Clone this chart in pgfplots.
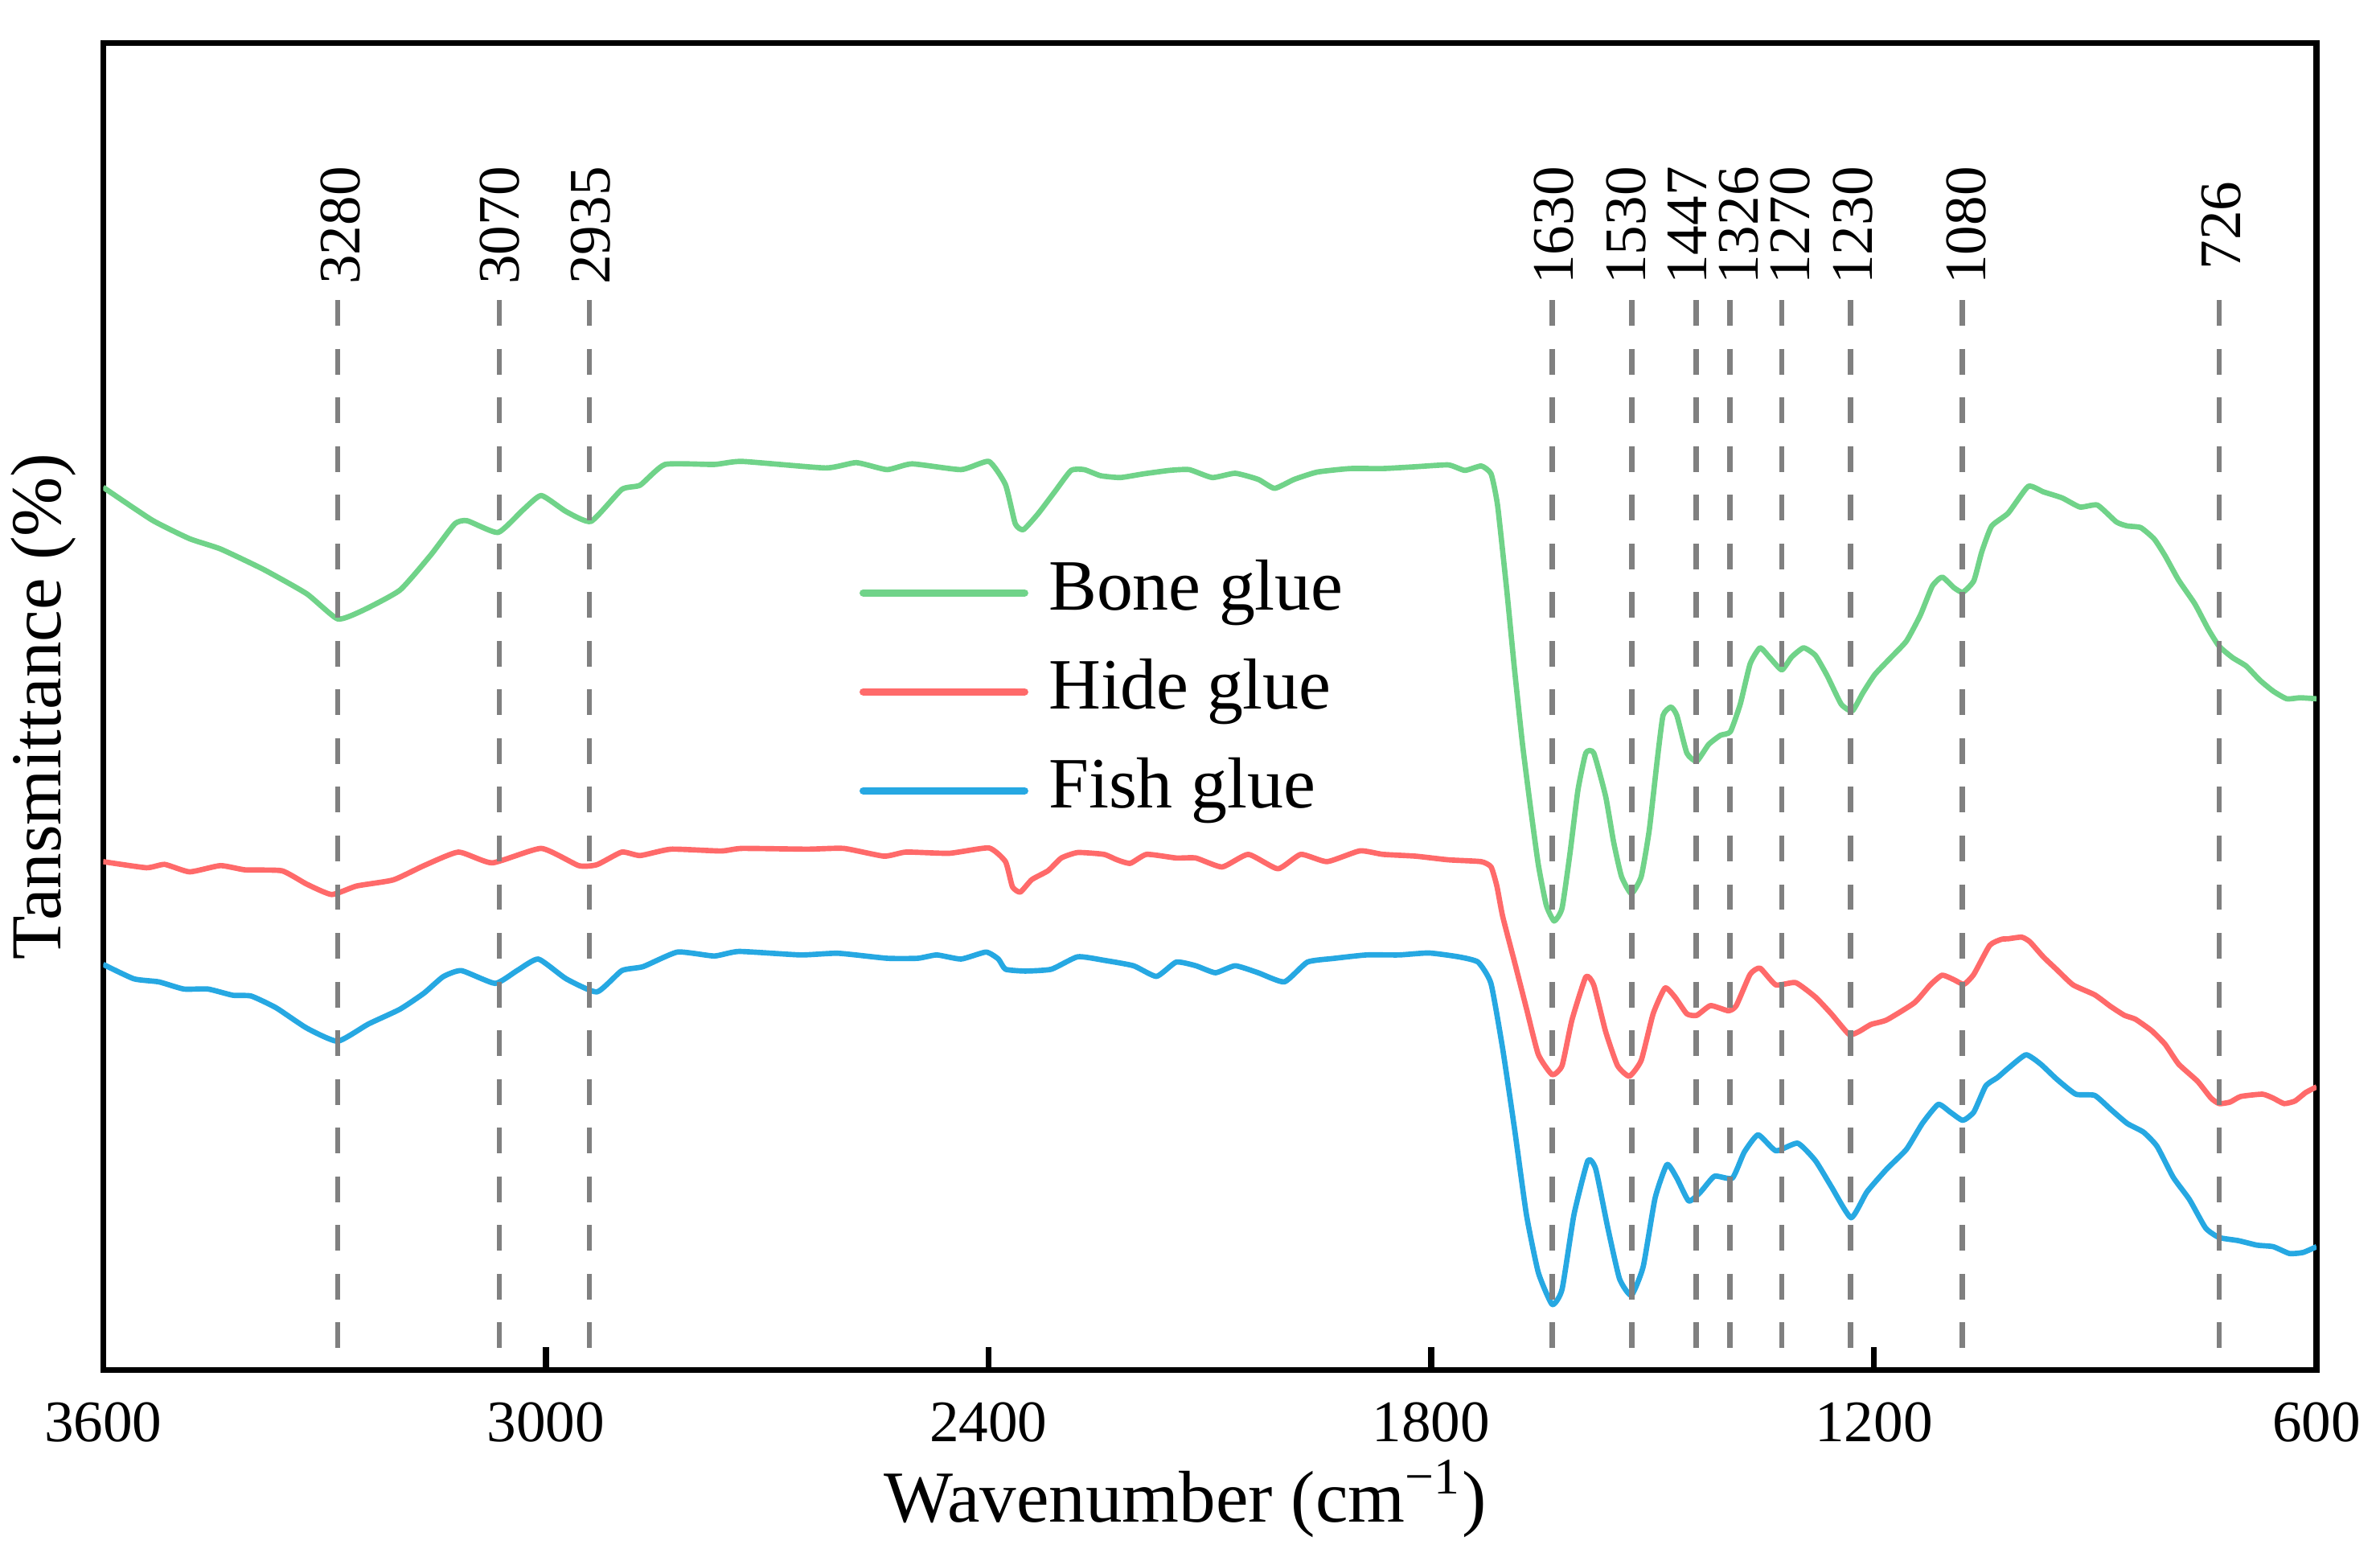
\documentclass[border=0pt]{standalone}
\usepackage{fontspec}
\setmainfont{Liberation Serif}
\usepackage{pgfplots}
\pgfplotsset{compat=1.18}
\usepackage{pgfplotstable}

\definecolor{bonegreen}{RGB}{112,211,137}
\definecolor{hidered}{RGB}{255,106,106}
\definecolor{fishblue}{RGB}{38,168,226}
\definecolor{peakgray}{RGB}{128,128,128}

% FTIR spectra, arbitrary transmittance units (curves offset)
\pgfplotstableread{
wn t
3600 580
3533.5 558.4
3482.8 546.2
3441.1 539.5
3382.5 526
3324 510
3282.2 493.5
3248.5 499
3197.8 512.4
3156.1 535.4
3123.4 556
3106.5 558
3064.8 550.3
3031 565.1
3006.2 574.6
2972.4 564
2938.7 557.6
2897 578.6
2872.1 581.4
2838.4 595
2771.8 595
2734.1 597
2620.9 592.7
2579.2 596.2
2537.5 591.6
2503.7 595.4
2437.2 591.6
2399.5 597
2377 581.7
2363.7 556
2352.6 552.2
2332.5 562.8
2310.3 577
2288.1 591.1
2270.2 591.6
2248 587.6
2221.3 586.4
2190.2 588.8
2154.6 591.1
2127.9 591.6
2096.8 586.4
2065.7 589.2
2034.5 585.2
2012.3 579.3
1985.6 585.2
1954.4 590
1910 592.3
1865.6 592.3
1821.1 593.5
1776.7 594.7
1754.4 591.1
1732.2 594
1718.8 588.8
1710 568
1697.7 513
1687 460
1676.2 411
1665.5 370
1654.8 332
1644 305.4
1633.3 295
1622.6 303.5
1611.9 339.4
1601.1 381
1590.4 405.4
1579.7 405.4
1563.6 377
1552.8 347
1542.1 324.3
1528.7 313
1515.3 324.3
1504.5 354.5
1493.8 400
1485.8 430
1475 435.6
1467 430
1453.5 405.4
1440.1 400
1424 411
1408 417
1394.5 419.4
1381.1 437.5
1367.7 464
1354.3 474.5
1340.9 468
1324.8 460
1311.4 468.5
1295.3 474.5
1279.2 469.5
1263.1 456
1244.3 437.5
1229.3 433
1214.8 445
1198.7 457
1177.2 468
1155.8 479
1137 496
1120.9 515
1107.5 521
1091.4 514
1079.5 511
1064.5 518.6
1053.8 537.5
1040.4 554.5
1018 563
990.8 580.6
970.3 577
944.7 573
920.6 567
897 568.3
871.3 557.2
856.7 554.6
838.3 553.5
820 546
805.3 535
787 519
765 503.4
746.7 486.7
732 475.5
713.7 468
695.3 462.5
677 453.3
658.7 446
640.3 441
622 441.7
600 441
}\bone

\pgfplotstableread{
wn t
3600 334
3541.4 330
3516.6 332.2
3482.8 327.3
3441.1 331.4
3407.4 328.6
3357.7 328
3324 319.2
3290.2 312.4
3256.4 318
3206.8 322
3165.1 331.4
3118.4 340.3
3072.7 333.2
3006.2 342.7
2955.5 331.4
2930.7 332
2897 340.3
2872.1 338
2830.4 342.2
2762.9 341
2734.1 342.7
2645.7 342.2
2596.1 342.7
2541.5 337.6
2511.7 340.3
2453.1 339.5
2399.5 343
2377 334
2367.6 317.5
2356.9 314
2341.3 322.2
2319.1 328.1
2301.3 336.4
2279.1 340
2243.6 338.8
2225.8 335.2
2207.9 332.9
2185.7 338.8
2145.6 336.4
2119 336.4
2083.4 330.5
2047.9 338.8
2007.8 329.3
1976.7 338.8
1941.1 334
1896.7 341.1
1865.6 338.8
1821.1 337.6
1776.7 335.2
1732.2 334
1718.8 330.5
1711 318
1703.1 298
1687 268
1670.9 237.5
1654.8 207.3
1636 194
1622.6 200
1609.2 230
1590.4 258.3
1579.7 253
1563.6 222.4
1547.5 200
1531.4 193
1515.3 203.5
1499.2 234
1483.1 251
1469.6 245
1453.5 234
1440.1 233
1421.4 239.4
1397.2 236
1386.5 239.4
1367.7 260
1354.3 264
1332.8 253
1306 254.5
1279.2 245
1257.7 234
1233.6 220.5
1220.1 222.4
1204 227
1182.6 230
1145 241.3
1123.6 253
1107.5 259.4
1091.4 256.4
1077.9 253.4
1064.5 260
1043 279
1026.9 283
1018 283.3
999.7 284.4
988.7 281.4
970.3 271.4
952 263
930 253
900.7 246.5
878.7 238.7
860.3 233
845.7 230.5
823.7 223
805.3 214
787 201
761.3 189.7
743 178.6
732 175
717.3 176
702.7 179.7
673.3 181.2
658.7 178.6
644 175
629.3 176.7
614.7 182.3
600 186
}\hide

\pgfplotstableread{
wn t
3600 266.5
3558.3 257
3524.5 255
3490.8 250.3
3458 250.3
3424.2 246.2
3399.4 245.7
3365.7 238
3324 224.6
3282.2 216
3240.5 227.3
3197.8 237
3165.1 247.6
3139.2 258.4
3114.4 262.4
3068.7 254
3039 262.4
3010.2 270
2972.4 257
2930.7 248.4
2897 262.4
2868.2 265
2821.5 274.6
2771.8 272
2738.1 275
2654.7 272.7
2604 273.8
2537.5 270.5
2495.8 270.5
2470 272.7
2437.2 270
2403.4 274.6
2386.6 270
2377 263.3
2350.3 262.1
2314.8 263.3
2279.1 271.5
2243.6 269.2
2203.5 265.6
2172.3 258.6
2145.6 268
2119 265.6
2092.4 261
2065.7 265.6
2034.5 261
1999 255
1967.8 268
1932.3 270.4
1887.8 272.7
1843.3 272.7
1803.3 274
1763.3 271.5
1736.5 268
1719 254
1703.1 211
1687 158.3
1670.9 102
1654.8 64
1636 43
1622.6 53
1606.5 102
1587.7 137.5
1577 132
1560.9 94
1544.8 60
1528.7 49
1512.6 68
1496.5 113
1480.4 135
1467 126
1450.9 111
1434.8 117
1416 127.3
1391.8 126
1375.8 143
1356.9 154.5
1332.8 144
1303.3 149
1279.2 137.5
1257.7 120.5
1230.9 100
1209.4 117
1182.6 132
1155.8 145
1134.3 162
1112.8 174.5
1096.7 169.5
1079.5 164
1064.5 169.5
1048.4 186.6
1032.3 192.2
1018 198.2
993.9 207.1
974 201
952 191
926.3 181.2
900.7 180.4
878.7 171.1
856.7 162
834.7 156.3
816.3 147
794.3 126.6
772.3 112
750.3 93.2
732 87
706.3 85
680.7 82
658.7 81
636.7 76.5
618.3 77.2
600 81
}\fish

% #1 line position, #2 label position, #3 label text
\newcommand{\peak}[3]{%
  \addplot[peakgray, line width=1pt, dash pattern=on 4.8pt off 4.3pt, forget plot]
    coordinates {(#1,703) (#1,0)};
  \node[rotate=90, anchor=center, inner sep=0pt, font=\fontsize{11}{13}\selectfont]
    at (axis cs:#2,752) {#3};
}

\begin{document}
\begin{tikzpicture}
\begin{axis}[
    name=ax,
    scale only axis,
    width=14.545cm, height=8.718cm,
    x dir=reverse,
    xmin=600, xmax=3600,
    ymin=0, ymax=872,
    xtick={3600,3000,2400,1800,1200,600},
    ytick=\empty,
    xtick pos=bottom,
    tick align=inside,
    major tick length=0.15cm,
    every tick/.style={black, line width=1.1pt},
    axis line style={line width=1.1pt},
    /pgf/number format/1000 sep={},
    xticklabel style={font=\fontsize{11}{13}\selectfont,
        /pgf/number format/assume math mode=true, yshift=-2.5pt},
    xlabel={Wavenumber (cm\textsuperscript{−1})},
    xlabel style={font=\fontsize{13.7}{16}\selectfont,
        at={(axis description cs:0.489,-0.097)}, anchor=center},
    ylabel={Tansmittance (\%)},
    ylabel style={font=\fontsize{13.4}{16}\selectfont,
        at={(axis description cs:-0.027,0.5)}, anchor=center},
    legend style={draw=none, fill=none,
        at={(axis description cs:0.334,0.511)}, anchor=west,
        font=\fontsize{13.5}{16}\selectfont, row sep=2pt,
        nodes={inner sep=2pt, text height=9.5pt, text depth=3pt}},
    legend cell align=left,
    legend image code/.code={
        \draw[line width=1.4pt, line cap=round] (0cm,0cm) -- (1.06cm,0cm);
        \path (1.13cm,0cm);},
]
\addplot[bonegreen, line width=1pt, line join=round, smooth, tension=0.3]
    table[x=wn, y=t] {\bone};
\addlegendentry{Bone glue}
\addplot[hidered, line width=1pt, line join=round, smooth, tension=0.3]
    table[x=wn, y=t] {\hide};
\addlegendentry{Hide glue}
\addplot[fishblue, line width=1pt, line join=round, smooth, tension=0.3]
    table[x=wn, y=t] {\fish};
\addlegendentry{Fish glue}

\peak{3282}{3278}{3280}
\peak{3063}{3063}{3070}
\peak{2941}{2939}{2935}
\peak{1636}{1634}{1630}
\peak{1528}{1536}{1530}
\peak{1441}{1453}{1447}
\peak{1395}{1383}{1326}
\peak{1325}{1313}{1270}
\peak{1232}{1228}{1230}
\peak{1080}{1075}{1080}
\peak{732}{729}{726}
\end{axis}
\pgfresetboundingbox
\path[use as bounding box] ([xshift=-0.678cm, yshift=-1.224cm]ax.south west)
    rectangle ([xshift=0.417cm, yshift=0.282cm]ax.north east);
\end{tikzpicture}
\end{document}
